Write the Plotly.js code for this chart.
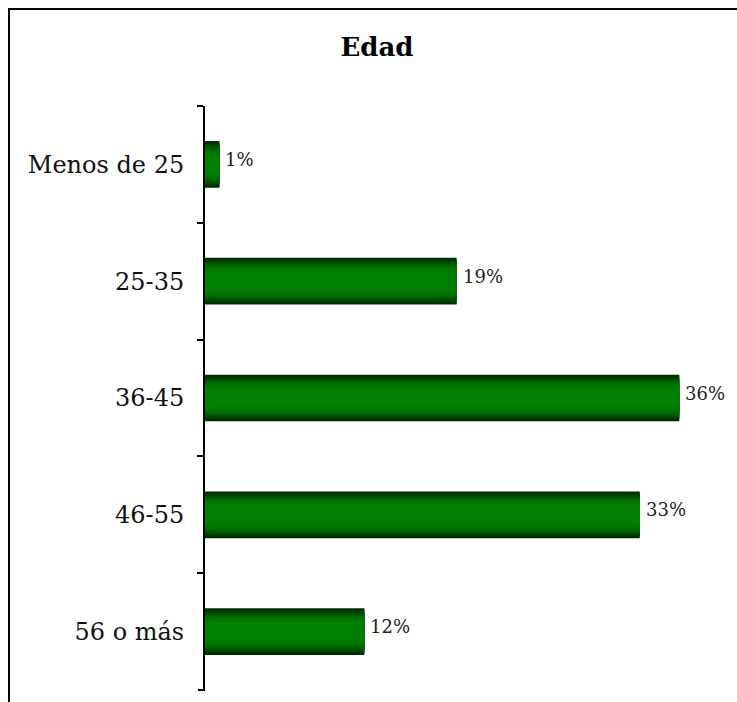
<!DOCTYPE html>
<html>
<head>
<meta charset="utf-8">
<script src="https://cdn.plot.ly/plotly-3.0.1.min.js"></script>
<style>
  html, body { margin: 0; padding: 0; background: #ffffff; }
  #chart { width: 737px; height: 702px; }
</style>
</head>
<body>
<div id="chart"></div>
<script>
// Data
const categories = ["Menos de 25", "25-35", "36-45", "46-55", "56 o más"];
const values = [1.1, 19.1, 36.0, 33.0, 12.1];
const valueLabels = ["1%", "19%", "36%", "33%", "12%"];
const chartTitle = "Edad";

// Styling for simulated vertical gradient (outer dark -> inner bright)
const layerFractions = [1.00, 0.92, 0.84, 0.76, 0.68, 0.60, 0.50, 0.36];
const layerColors = ["#002b00", "#003c00", "#004c00", "#005b00", "#006800", "#007300", "#007b00", "#008000"];
const barThickness = 0.40;

const traces = layerFractions.map((f, i) => ({
  type: "bar",
  orientation: "h",
  y: categories,
  x: values,
  width: categories.map(() => barThickness * f),
  marker: { color: layerColors[i], line: { width: 0 } },
  textposition: "none",
  hoverinfo: "skip",
  showlegend: false
}));

const annotations = categories.map((c, i) => ({
  x: values[i],
  y: c,
  xref: "x",
  yref: "y",
  text: valueLabels[i],
  showarrow: false,
  xanchor: "left",
  yanchor: "middle",
  xshift: 4,
  yshift: 5,
  font: { family: "DejaVu Serif", size: 18, color: "#222222" }
}));

const L = 205, R = 5, T = 106, B = 12, W = 737, H = 702;
const pw = W - L - R, ph = H - T - B;
const px = p => (p - L) / pw;
const py = p => (H - B - p) / ph;

const layout = {
  width: W,
  height: H,
  margin: { l: L, r: R, t: T, b: B, pad: 0 },
  paper_bgcolor: "#ffffff",
  plot_bgcolor: "#ffffff",
  barmode: "overlay",
  title: {
    text: "<b>" + chartTitle + "</b>",
    font: { family: "DejaVu Serif", size: 26, color: "#000000" },
    x: 377 / W,
    xanchor: "center",
    xref: "container",
    y: 1 - 47 / H,
    yref: "container",
    yanchor: "middle"
  },
  xaxis: {
    visible: false,
    range: [0, 40],
    fixedrange: true
  },
  yaxis: {
    type: "category",
    autorange: false,
    range: [4.5, -0.5],
    showline: true,
    linecolor: "#000000",
    linewidth: 2,
    ticks: "outside",
    tickson: "boundaries",
    ticklen: 6,
    tickwidth: 2,
    tickcolor: "#000000",
    showgrid: false,
    zeroline: false,
    ticklabelstandoff: 14,
    tickfont: { family: "DejaVu Serif", size: 24, color: "#111111" },
    fixedrange: true
  },
  annotations: annotations,
  shapes: [
    { type: "line", xref: "paper", yref: "paper", x0: px(8), x1: px(745), y0: py(9), y1: py(9), line: { color: "#000000", width: 2 } },
    { type: "line", xref: "paper", yref: "paper", x0: px(9), x1: px(9), y0: py(8), y1: py(710), line: { color: "#000000", width: 2 } },
    { type: "line", xref: "paper", yref: "paper", x0: px(198), x1: px(205), y0: 0, y1: 0, line: { color: "#000000", width: 2 } }
  ]
};

Plotly.newPlot("chart", traces, layout, { staticPlot: true, displayModeBar: false });
</script>
</body>
</html>
